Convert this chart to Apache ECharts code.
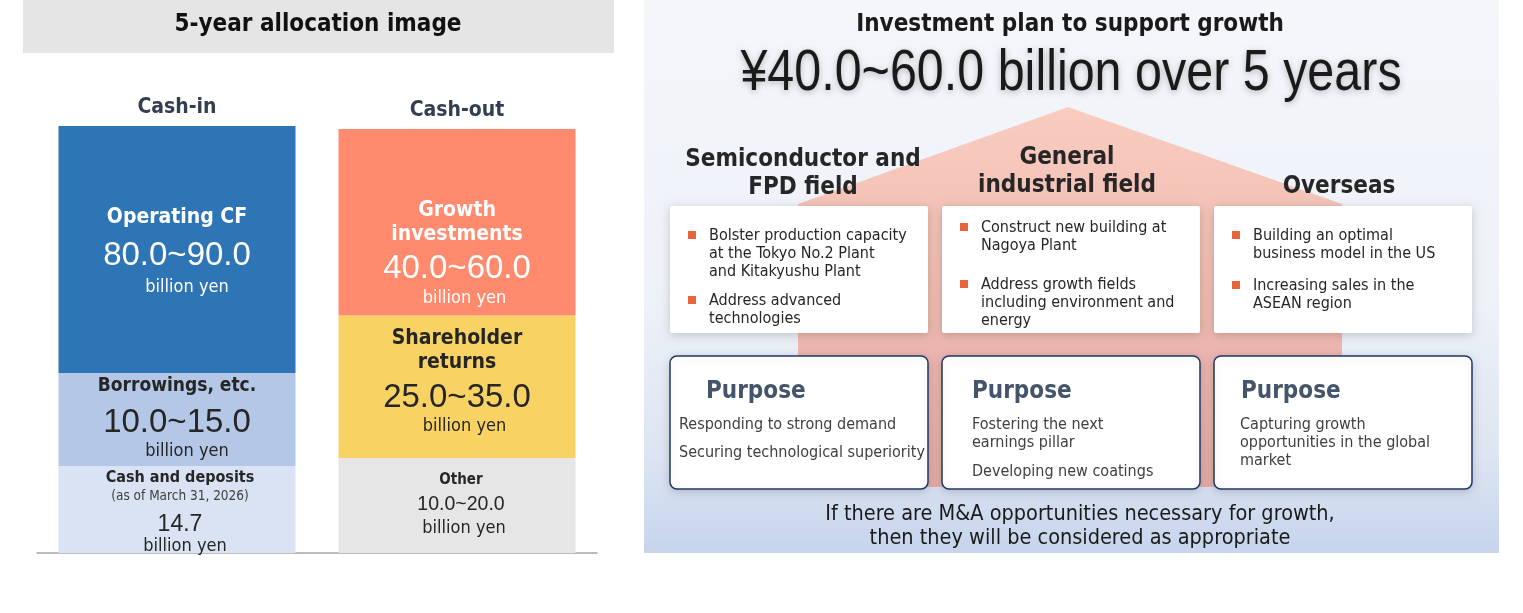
<!DOCTYPE html>
<html><head><meta charset="utf-8">
<script src="https://cdn.jsdelivr.net/npm/echarts@6/dist/echarts.min.js"></script>
<style>html,body{margin:0;padding:0;background:#fff}#c{width:1523px;height:613px}</style>
</head><body><div id="c"></div><script>
// ---- data ----
const categories = ['Cash-in', 'Cash-out'];
const bottomNames = ['Cash and deposits', 'Other'];
const middleNames = ['Borrowings, etc.', 'Shareholder\nreturns'];
const topNames = ['Operating CF', 'Growth\ninvestments'];
// block heights as drawn in the schematic
const bottomBlocks = [87, 95];
const middleBlocks = [93, 142.5];
const topBlocks = [247, 186.5];
const bottomAmounts = ['14.7', '10.0~20.0'];
const middleAmounts = ['10.0~15.0', '25.0~35.0'];
const topAmounts = ['80.0~90.0', '40.0~60.0'];
const unitText = 'billion yen';
const cashNote = '(as of March 31, 2026)';
const leftTitle = '5-year allocation image';
const planTitle = 'Investment plan to support growth';
const planAmount = '¥40.0~60.0 billion over 5 years';
const fieldTitles = ['Semiconductor and\nFPD field', 'General\nindustrial field', 'Overseas'];
const fieldBullets = [
  ['Bolster production capacity\nat the Tokyo No.2 Plant\nand Kitakyushu Plant', 'Address advanced\ntechnologies'],
  ['Construct new building at\nNagoya Plant', 'Address growth fields\nincluding environment and\nenergy'],
  ['Building an optimal\nbusiness model in the US', 'Increasing sales in the\nASEAN region']
];
const purposeTitle = 'Purpose';
const purposeTexts = [
  ['Responding to strong demand', 'Securing technological superiority'],
  ['Fostering the next\nearnings pillar', 'Developing new coatings'],
  ['Capturing growth\nopportunities in the global\nmarket']
];
const footerText = 'If there are M&A opportunities necessary for growth,\nthen they will be considered as appropriate';

// ---- styles ----
const NUM = '"Liberation Sans",Arial,sans-serif';
const COND = '"DejaVu Sans Condensed","DejaVu Sans",sans-serif';
const DARK = '#262626';

function lines(key, s) { return s.split('\n').map(t => '{' + key + '|' + t + '}').join('\n'); }

const chart = echarts.init(document.getElementById('c'));

const topSeries = {
  type: 'bar', stack: 'total', barWidth: 237, name: 'top',
  data: [
    { value: topBlocks[0], itemStyle: { color: '#2E75B6' },
      label: { show: true, position: 'inside', offset: [0, 0],
        formatter: lines('t', topNames[0]) + '\n{v|' + topAmounts[0] + '}\n{u|' + unitText + '}',
        rich: { t: { fontFamily: COND, fontWeight: 'bold', fontSize: 21, color: '#fff', lineHeight: 34 },
                v: { fontFamily: NUM, fontSize: 33, color: '#fff', lineHeight: 42 },
                u: { fontFamily: COND, fontSize: 18, color: '#fff', lineHeight: 22, padding: [0, 0, 0, 20] } } } },
    { value: topBlocks[1], itemStyle: { color: '#FF8A6E' },
      label: { show: true, position: 'inside', offset: [0, 29],
        formatter: lines('t', topNames[1]) + '\n{v|' + topAmounts[1] + '}\n{u|' + unitText + '}',
        rich: { t: { fontFamily: COND, fontWeight: 'bold', fontSize: 21, color: '#fff', lineHeight: 24 },
                v: { fontFamily: NUM, fontSize: 33, color: '#fff', lineHeight: 46 },
                u: { fontFamily: COND, fontSize: 18, color: '#fff', lineHeight: 12, padding: [0, 0, 0, 15] } } } }
  ]
};
const midSeries = {
  type: 'bar', stack: 'total', barWidth: 237, name: 'middle',
  data: [
    { value: middleBlocks[0], itemStyle: { color: '#B4C7E7' },
      label: { show: true, position: 'inside', offset: [0, -4],
        formatter: lines('t', middleNames[0]) + '\n{v|' + middleAmounts[0] + '}\n{u|' + unitText + '}',
        rich: { t: { fontFamily: COND, fontWeight: 'bold', fontSize: 19, color: DARK, lineHeight: 30 },
                v: { fontFamily: NUM, fontSize: 33, color: DARK, lineHeight: 42 },
                u: { fontFamily: COND, fontSize: 18, color: DARK, lineHeight: 16, padding: [0, 0, 0, 20] } } } },
    { value: middleBlocks[1], itemStyle: { color: '#F9D264' },
      label: { show: true, position: 'inside', offset: [0, -7],
        formatter: lines('t', middleNames[1]) + '\n{v|' + middleAmounts[1] + '}\n{u|' + unitText + '}',
        rich: { t: { fontFamily: COND, fontWeight: 'bold', fontSize: 21, color: DARK, lineHeight: 24 },
                v: { fontFamily: NUM, fontSize: 33, color: DARK, lineHeight: 46 },
                u: { fontFamily: COND, fontSize: 18, color: DARK, lineHeight: 12, padding: [0, 0, 0, 15] } } } }
  ]
};
const botSeries = {
  type: 'bar', stack: 'total', barWidth: 237, name: 'bottom',
  data: [
    { value: bottomBlocks[0], itemStyle: { color: '#DAE3F3' },
      label: { show: true, position: 'inside', offset: [3, -1],
        formatter: lines('t', bottomNames[0]) + '\n{s|' + cashNote + '}\n{v|' + bottomAmounts[0] + '}\n{u|' + unitText + '}',
        rich: { t: { fontFamily: COND, fontWeight: 'bold', fontSize: 16, color: DARK, lineHeight: 20 },
                s: { fontFamily: COND, fontSize: 13.5, color: '#404040', lineHeight: 18 },
                v: { fontFamily: NUM, fontSize: 23, color: DARK, lineHeight: 38 },
                u: { fontFamily: COND, fontSize: 18, color: DARK, lineHeight: 6, padding: [0, 0, 0, 10] } } } },
    { value: bottomBlocks[1], itemStyle: { color: '#E6E6E6' },
      label: { show: true, position: 'inside', offset: [4, -1],
        formatter: lines('t', bottomNames[1]) + '\n{v|' + bottomAmounts[1] + '}\n{u|' + unitText + '}',
        rich: { t: { fontFamily: COND, fontWeight: 'bold', fontSize: 15, color: DARK, lineHeight: 22 },
                v: { fontFamily: NUM, fontSize: 19.5, color: DARK, lineHeight: 26 },
                u: { fontFamily: COND, fontSize: 18, color: DARK, lineHeight: 22, padding: [0, 0, 0, 6] } } } }
  ]
};

// ---- graphic (right panel & headers) ----
const G = [];
function txt(text, x, y, font, fill, align, vAlign, lh, extra, el) {
  G.push(Object.assign({ type: 'text', z: 10, style: Object.assign({ text: text, x: x, y: y, font: font, fill: fill,
    textAlign: align || 'left', textVerticalAlign: vAlign || 'middle', lineHeight: lh || 20 }, extra || {}) }, el || {}));
}
// left header
G.push({ type: 'rect', z: 1, shape: { x: 23, y: 0, width: 591, height: 53 }, style: { fill: '#E5E5E5' } });
txt(leftTitle, 318, 25, 'bold 24px ' + COND, '#111', 'center');
// right background
G.push({ type: 'rect', z: 1, shape: { x: 644, y: 0, width: 855, height: 553 },
  style: { fill: new echarts.graphic.LinearGradient(0, 0, 0, 1, [
    { offset: 0, color: '#F4F6FA' }, { offset: 0.55, color: '#EDF1F8' },
    { offset: 0.82, color: '#DDE5F2' }, { offset: 1, color: '#C6D4EC' }]) } });
// pink house
G.push({ type: 'polygon', z: 2, shape: { points: [[1068, 107], [798, 204], [798, 487], [1342, 487], [1342, 204]] },
  style: { fill: new echarts.graphic.LinearGradient(0, 0, 0, 1, [
    { offset: 0, color: '#F9CCC0' }, { offset: 0.5, color: '#EFBAB1' }, { offset: 1, color: '#E3ABA8' }]) } });
txt(planTitle, 1070, 25, 'bold 24px ' + COND, '#1a1a1a', 'center');
txt(planAmount, 0, 0, '57px ' + NUM, '#1a1a1a', 'center', 'middle', 60,
  { textShadowBlur: 6, textShadowColor: 'rgba(0,0,0,0.25)', textShadowOffsetY: 2 },
  { x: 1071, y: 74, scaleX: 0.85 });
const fieldX = [803, 1067, 1339];
const fieldY = [174, 172, 187];
fieldTitles.forEach((t, i) => txt(t, fieldX[i], fieldY[i], 'bold 24px ' + COND, '#262626', 'center', 'middle', 27.5));

const boxX = [670, 942, 1214];
const boxW = 258;
const bulletStart = [235, 227, 235];
const bulletGap = [11, 21, 14];
const bulletX = [688, 960, 1232];
boxX.forEach((bx, i) => {
  G.push({ type: 'rect', z: 5, shape: { x: bx, y: 206, width: boxW, height: 127, r: 2 },
    style: { fill: '#fff', shadowBlur: 10, shadowColor: 'rgba(0,0,0,0.18)', shadowOffsetY: 2 } });
  let y = bulletStart[i];
  fieldBullets[i].forEach(b => {
    G.push({ type: 'rect', z: 10, shape: { x: bulletX[i], y: y - 4, width: 8, height: 8 }, style: { fill: '#E9643C' } });
    const n = b.split('\n').length;
    txt(b, bulletX[i] + 21, y - 8, '16px ' + COND, DARK, 'left', 'top', 18);
    y += n * 18 + bulletGap[i];
  });
  // purpose boxes
  G.push({ type: 'rect', z: 5, shape: { x: bx, y: 356, width: boxW, height: 133, r: 7 },
    style: { fill: '#fff', stroke: '#1F3864', lineWidth: 1.5, shadowBlur: 10, shadowColor: 'rgba(0,0,0,0.15)', shadowOffsetY: 2 } });
});
const purposeTX = [706, 972, 1241];
const purposeX = [679, 972, 1240];
const purposeGap = [10, 11, 10];
purposeTX.forEach((x, i) => {
  txt(purposeTitle, x, 392, 'bold 24px ' + COND, '#44546A', 'left');
  let y = 425;
  purposeTexts[i].forEach(p => {
    txt(p, purposeX[i], y - 9, '16px ' + COND, '#404040', 'left', 'top', 18);
    y += p.split('\n').length * 18 + purposeGap[i];
  });
});
txt(footerText, 1080, 526, '21.5px ' + COND, '#1a1a1a', 'center', 'middle', 24);

chart.setOption({
  animation: false,
  grid: { left: 37, width: 560, top: 126, height: 427 },
  xAxis: [
    { type: 'category', data: categories, position: 'bottom',
      axisLine: { lineStyle: { color: '#A6A6A6', width: 1.5 } }, axisTick: { show: false }, axisLabel: { show: false } },
    { type: 'category', data: categories, position: 'top',
      axisLine: { show: false }, axisTick: { show: false },
      axisLabel: { margin: 5,
        formatter: (v, i) => i === 0 ? '{a|' + v + '}' : '{b|' + v + '}',
        rich: { a: { fontFamily: COND, fontWeight: 'bold', fontSize: 21, color: '#333F50', padding: [0, 0, 3, 0] },
                b: { fontFamily: COND, fontWeight: 'bold', fontSize: 21, color: '#333F50' } } } }
  ],
  yAxis: { type: 'value', min: 0, max: 427, show: false },
  series: [botSeries, midSeries, topSeries],
  graphic: { elements: G }
});
</script></body></html>
